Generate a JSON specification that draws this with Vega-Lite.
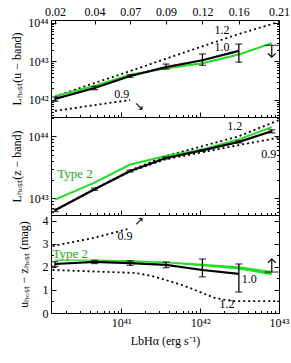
{
  "$schema": "https://vega.github.io/schema/vega-lite/v6.json",
  "padding": {"left": 10, "top": 4, "right": 2, "bottom": 2},
  "spacing": 0,
  "bounds": "flush",
  "config": {
    "view": {"stroke": "black", "strokeWidth": 1},
    "font": "Liberation Serif, Times New Roman, serif",
    "axis": {"domain": false, "grid": false, "labelFont": "Liberation Serif, Times New Roman, serif", "labelFontSize": 12, "labelColor": "black", "tickColor": "black", "tickWidth": 1, "titleFont": "Liberation Serif, Times New Roman, serif", "titleFontSize": 12, "titleFontWeight": "normal", "titleColor": "black", "labelOverlap": false, "labelFlush": false},
    "text": {"font": "Liberation Serif, Times New Roman, serif", "fontSize": 12}
  },
  "vconcat": [
    {
      "width": 228, "height": 97,
      "resolve": {"axis": {"x": "independent", "y": "independent"}},
      "layer": [
        {
          "data": {"values": [
            {"s": "1.2", "L": 1.45e40, "v": 1.23e42}, {"s": "1.2", "L": 4.6e40, "v": 2.75e42}, {"s": "1.2", "L": 1.3e41, "v": 5.6e42}, {"s": "1.2", "L": 3.7e41, "v": 1.17e43}, {"s": "1.2", "L": 1.07e42, "v": 2.45e43}, {"s": "1.2", "L": 3.1e42, "v": 5.1e43}, {"s": "1.2", "L": 1e43, "v": 1.05e44},
            {"s": "0.9", "L": 1.45e40, "v": 5.2e41}, {"s": "0.9", "L": 4.6e40, "v": 7.4e41}, {"s": "0.9", "L": 1.3e41, "v": 1.0e42}
          ]},
          "mark": {"type": "line", "color": "black", "strokeWidth": 1.8, "strokeDash": [2, 3], "clip": true},
          "encoding": {
            "x": {"field": "L", "type": "quantitative", "scale": {"type": "log", "domain": [1.29e40, 1e43], "nice": false},
              "axis": {"orient": "bottom", "values": [2e40,3e40,4e40,5e40,6e40,7e40,8e40,9e40,1e41,2e41,3e41,4e41,5e41,6e41,7e41,8e41,9e41,1e42,2e42,3e42,4e42,5e42,6e42,7e42,8e42,9e42,1e43], "labels": false, "title": null,
                "tickSize": {"condition": {"test": "datum.value==1e41||datum.value==1e42||datum.value==1e43", "value": -5}, "value": -2.5}}},
            "y": {"field": "v", "type": "quantitative", "scale": {"type": "log", "domain": [3.63e41, 1.175e44], "nice": false},
              "axis": {"orient": "left", "values": [4e41,5e41,6e41,7e41,8e41,9e41,1e42,2e42,3e42,4e42,5e42,6e42,7e42,8e42,9e42,1e43,2e43,3e43,4e43,5e43,6e43,7e43,8e43,9e43,1e44],
                "labelExpr": "datum.value==1e42?'10⁴²':datum.value==1e43?'10⁴³':datum.value==1e44?'10⁴⁴':''", "labelPadding": 8, "title": "Lₕₒₛₜ(u − band)", "titlePadding": 4,
                "tickSize": {"condition": {"test": "datum.value==1e42||datum.value==1e43||datum.value==1e44", "value": -5}, "value": -2.5}}},
            "detail": {"field": "s"}
          }
        },
        {
          "data": {"values": [
            {"L": 1.45e40, "v": 1.26e42}, {"L": 4.6e40, "v": 2.3e42}, {"L": 1.3e41, "v": 4.5e42}, {"L": 3.7e41, "v": 6.6e42}, {"L": 1.07e42, "v": 8.9e42}, {"L": 3.1e42, "v": 1.5e43}, {"L": 8.1e42, "v": 2.95e43}
          ]},
          "mark": {"type": "line", "color": "#22dd22", "strokeWidth": 2, "clip": true},
          "encoding": {
            "x": {"field": "L", "type": "quantitative",
              "axis": {"orient": "top", "values": [1.45e40, 4.6e40, 1.3e41, 3.7e41, 1.07e42, 3.1e42, 1e43], "tickSize": -4, "labelPadding": 6, "title": null,
                "labelExpr": "datum.value==1.45e40?'0.02':datum.value==4.6e40?'0.04':datum.value==1.3e41?'0.07':datum.value==3.7e41?'0.09':datum.value==1.07e42?'0.12':datum.value==3.1e42?'0.16':'0.21'"}},
            "y": {"field": "v", "type": "quantitative",
              "axis": {"orient": "right", "values": [4e41,5e41,6e41,7e41,8e41,9e41,1e42,2e42,3e42,4e42,5e42,6e42,7e42,8e42,9e42,1e43,2e43,3e43,4e43,5e43,6e43,7e43,8e43,9e43,1e44], "labels": false, "title": null,
                "tickSize": {"condition": {"test": "datum.value==1e42||datum.value==1e43||datum.value==1e44", "value": -5}, "value": -2.5}}}
          }
        },
        {
          "data": {"values": [
            {"L": 1.45e40, "v": 1.07e42, "lo": 9.3e41, "hi": 1.2e42}, {"L": 4.6e40, "v": 2.04e42, "lo": 1.85e42, "hi": 2.25e42}, {"L": 1.3e41, "v": 4.17e42, "lo": 3.85e42, "hi": 4.5e42}, {"L": 3.7e41, "v": 7.1e42, "lo": 6.3e42, "hi": 8.5e42}, {"L": 1.07e42, "v": 1.07e43, "lo": 7.9e42, "hi": 1.55e43}, {"L": 3.1e42, "v": 1.86e43, "lo": 9.5e42, "hi": 2.8e43}
          ]},
          "layer": [
            {"mark": {"type": "line", "color": "black", "strokeWidth": 2.2, "clip": true},
             "encoding": {"x": {"field": "L", "type": "quantitative", "axis": null}, "y": {"field": "v", "type": "quantitative", "axis": null}}},
            {"mark": {"type": "errorbar", "ticks": {"thickness": 1.3}, "size": 7, "thickness": 1.3, "color": "black"},
             "encoding": {"x": {"field": "L", "type": "quantitative", "axis": null}, "y": {"field": "lo", "type": "quantitative", "axis": null}, "y2": {"field": "hi"}}}
          ]
        },
        {
          "data": {"values": [{"L": 8.1e42, "v": 2.6e43, "v2": 1.28e43}]},
          "layer": [
            {"mark": {"type": "rule", "color": "black", "strokeWidth": 1.2},
             "encoding": {"x": {"field": "L", "type": "quantitative", "axis": null}, "y": {"field": "v", "type": "quantitative", "axis": null}, "y2": {"field": "v2"}}},
            {"mark": {"type": "tick", "orient": "horizontal", "color": "black", "size": 14, "thickness": 1.2},
             "encoding": {"x": {"field": "L", "type": "quantitative", "axis": null}, "y": {"field": "v", "type": "quantitative", "axis": null}}},
            {"mark": {"type": "point", "shape": "M -1 -1 L 0 0 L 1 -1", "filled": false, "stroke": "black", "strokeWidth": 1.2, "size": 60, "opacity": 1},
             "encoding": {"x": {"field": "L", "type": "quantitative", "axis": null}, "y": {"field": "v2", "type": "quantitative", "axis": null}}}
          ]
        },
        {
          "data": {"values": [
            {"L": 1.9e42, "v": 6.5e43, "t": "1.2"}, {"L": 1.9e42, "v": 2.4e43, "t": "1.0"}, {"L": 1.02e41, "v": 1.43e42, "t": "0.9"}, {"L": 1.7e41, "v": 7.0e41, "t": "↘"}
          ]},
          "mark": {"type": "text", "color": "black", "align": "center", "baseline": "middle"},
          "encoding": {"x": {"field": "L", "type": "quantitative", "axis": null}, "y": {"field": "v", "type": "quantitative", "axis": null}, "text": {"field": "t"}}
        }
      ]
    },
    {
      "width": 228, "height": 98,
      "resolve": {"axis": {"x": "independent", "y": "independent"}},
      "layer": [
        {
          "data": {"values": [
            {"s": "1.2", "L": 1.45e40, "v": 6.4e42}, {"s": "1.2", "L": 4.6e40, "v": 1.4e43}, {"s": "1.2", "L": 1.3e41, "v": 2.8e43}, {"s": "1.2", "L": 3.7e41, "v": 4.8e43}, {"s": "1.2", "L": 1.07e42, "v": 6.9e43}, {"s": "1.2", "L": 3.1e42, "v": 1.0e44}, {"s": "1.2", "L": 1e43, "v": 1.82e44},
            {"s": "0.9", "L": 1.45e40, "v": 6.4e42}, {"s": "0.9", "L": 4.6e40, "v": 1.4e43}, {"s": "0.9", "L": 1.3e41, "v": 2.7e43}, {"s": "0.9", "L": 3.7e41, "v": 4.27e43}, {"s": "0.9", "L": 1.07e42, "v": 5.5e43}, {"s": "0.9", "L": 3.1e42, "v": 7.2e43}, {"s": "0.9", "L": 1e43, "v": 9.5e43}
          ]},
          "mark": {"type": "line", "color": "black", "strokeWidth": 1.8, "strokeDash": [2, 3], "clip": true},
          "encoding": {
            "x": {"field": "L", "type": "quantitative", "scale": {"type": "log", "domain": [1.29e40, 1e43], "nice": false},
              "axis": {"orient": "bottom", "values": [2e40,3e40,4e40,5e40,6e40,7e40,8e40,9e40,1e41,2e41,3e41,4e41,5e41,6e41,7e41,8e41,9e41,1e42,2e42,3e42,4e42,5e42,6e42,7e42,8e42,9e42,1e43], "labels": false, "title": null,
                "tickSize": {"condition": {"test": "datum.value==1e41||datum.value==1e42||datum.value==1e43", "value": -5}, "value": -2.5}}},
            "y": {"field": "v", "type": "quantitative", "scale": {"type": "log", "domain": [5.37e42, 2.04e44], "nice": false},
              "axis": {"orient": "left", "values": [6e42,7e42,8e42,9e42,1e43,2e43,3e43,4e43,5e43,6e43,7e43,8e43,9e43,1e44,2e44],
                "labelExpr": "datum.value==1e43?'10⁴³':datum.value==1e44?'10⁴⁴':''", "labelPadding": 8, "title": "Lₕₒₛₜ(z − band)", "titlePadding": 4,
                "tickSize": {"condition": {"test": "datum.value==1e43||datum.value==1e44", "value": -5}, "value": -2.5}}},
            "detail": {"field": "s"}
          }
        },
        {
          "data": {"values": [
            {"L": 1.45e40, "v": 9.5e42}, {"L": 4.6e40, "v": 1.78e43}, {"L": 1.3e41, "v": 3.5e43}, {"L": 3.7e41, "v": 4.8e43}, {"L": 1.07e42, "v": 6.1e43}, {"L": 3.1e42, "v": 8.9e43}, {"L": 8.1e42, "v": 1.4e44}
          ]},
          "mark": {"type": "line", "color": "#22dd22", "strokeWidth": 2, "clip": true},
          "encoding": {
            "x": {"field": "L", "type": "quantitative", "axis": null},
            "y": {"field": "v", "type": "quantitative",
              "axis": {"orient": "right", "values": [6e42,7e42,8e42,9e42,1e43,2e43,3e43,4e43,5e43,6e43,7e43,8e43,9e43,1e44,2e44], "labels": false, "title": null,
                "tickSize": {"condition": {"test": "datum.value==1e43||datum.value==1e44", "value": -5}, "value": -2.5}}}
          }
        },
        {
          "data": {"values": [
            {"L": 1.45e40, "v": 6.4e42, "lo": 6.1e42, "hi": 6.7e42}, {"L": 4.6e40, "v": 1.4e43, "lo": 1.34e43, "hi": 1.46e43}, {"L": 1.3e41, "v": 2.75e43, "lo": 2.65e43, "hi": 2.85e43}, {"L": 3.7e41, "v": 4.45e43, "lo": 4.3e43, "hi": 4.6e43}, {"L": 1.07e42, "v": 5.9e43, "lo": 5.7e43, "hi": 6.1e43}, {"L": 3.1e42, "v": 8.1e43, "lo": 7.8e43, "hi": 8.4e43}, {"L": 8.1e42, "v": 1.2e44, "lo": 1.13e44, "hi": 1.27e44}
          ]},
          "layer": [
            {"mark": {"type": "line", "color": "black", "strokeWidth": 2.2, "clip": true},
             "encoding": {"x": {"field": "L", "type": "quantitative", "axis": null}, "y": {"field": "v", "type": "quantitative", "axis": null}}},
            {"mark": {"type": "errorbar", "ticks": {"thickness": 1.3}, "size": 7, "thickness": 1.3, "color": "black"},
             "encoding": {"x": {"field": "L", "type": "quantitative", "axis": null}, "y": {"field": "lo", "type": "quantitative", "axis": null}, "y2": {"field": "hi"}}}
          ]
        },
        {
          "data": {"values": [
            {"L": 2.75e42, "v": 1.45e44, "t": "1.2"}, {"L": 7.4e42, "v": 5.1e43, "t": "0.9"}
          ]},
          "mark": {"type": "text", "color": "black", "align": "center", "baseline": "middle"},
          "encoding": {"x": {"field": "L", "type": "quantitative", "axis": null}, "y": {"field": "v", "type": "quantitative", "axis": null}, "text": {"field": "t"}}
        },
        {
          "data": {"values": [{"L": 1.55e40, "v": 2.45e43, "t": "Type 2"}]},
          "mark": {"type": "text", "color": "#22aa22", "align": "left", "baseline": "middle", "fontSize": 13},
          "encoding": {"x": {"field": "L", "type": "quantitative", "axis": null}, "y": {"field": "v", "type": "quantitative", "axis": null}, "text": {"field": "t"}}
        }
      ]
    },
    {
      "width": 228, "height": 98,
      "resolve": {"axis": {"x": "independent", "y": "independent"}},
      "layer": [
        {
          "data": {"values": [
            {"s": "1.2", "L": 1.35e40, "v": 1.87}, {"s": "1.2", "L": 1.51e41, "v": 1.74}, {"s": "1.2", "L": 2.45e41, "v": 1.61}, {"s": "1.2", "L": 4.07e41, "v": 1.39}, {"s": "1.2", "L": 6.46e41, "v": 1.17}, {"s": "1.2", "L": 1.07e42, "v": 0.87}, {"s": "1.2", "L": 1.55e42, "v": 0.65}, {"s": "1.2", "L": 2.09e42, "v": 0.57}, {"s": "1.2", "L": 2.75e42, "v": 0.52}, {"s": "1.2", "L": 1e43, "v": 0.52},
            {"s": "0.9", "L": 1.35e40, "v": 2.91}, {"s": "0.9", "L": 4.6e40, "v": 3.27}, {"s": "0.9", "L": 1.2e41, "v": 3.65}
          ]},
          "mark": {"type": "line", "color": "black", "strokeWidth": 1.8, "strokeDash": [2, 3], "clip": true},
          "encoding": {
            "x": {"field": "L", "type": "quantitative", "scale": {"type": "log", "domain": [1.29e40, 1e43], "nice": false},
              "axis": {"orient": "bottom", "values": [2e40,3e40,4e40,5e40,6e40,7e40,8e40,9e40,1e41,2e41,3e41,4e41,5e41,6e41,7e41,8e41,9e41,1e42,2e42,3e42,4e42,5e42,6e42,7e42,8e42,9e42,1e43],
                "labelExpr": "datum.value==1e41?'10⁴¹':datum.value==1e42?'10⁴²':datum.value==1e43?'10⁴³':''", "labelPadding": 9,
                "title": "LbHα (erg s⁻¹)", "titlePadding": 5,
                "tickSize": {"condition": {"test": "datum.value==1e41||datum.value==1e42||datum.value==1e43", "value": -5}, "value": -2.5}}},
            "y": {"field": "v", "type": "quantitative", "scale": {"domain": [0, 4.26], "nice": false},
              "axis": {"orient": "left", "values": [0,0.5,1,1.5,2,2.5,3,3.5,4],
                "labelExpr": "datum.value%1==0?format(datum.value,'d'):''", "labelPadding": 8, "title": "uₕₒₛₜ − zₕₒₛₜ (mag)", "titlePadding": 12,
                "tickSize": {"condition": {"test": "datum.value%1==0", "value": -5}, "value": -2.5}}},
            "detail": {"field": "s"}
          }
        },
        {
          "data": {"values": [
            {"L": 1.45e40, "lo": 2.27, "hi": 2.33}, {"L": 4.6e40, "lo": 2.27, "hi": 2.33}, {"L": 1.3e41, "lo": 2.22, "hi": 2.29}, {"L": 3.7e41, "lo": 2.16, "hi": 2.24}, {"L": 1.07e42, "lo": 2.03, "hi": 2.14}, {"L": 3.1e42, "lo": 1.89, "hi": 2.03}, {"L": 8.1e42, "lo": 1.64, "hi": 1.83}
          ]},
          "mark": {"type": "area", "color": "#22dd22", "opacity": 1, "clip": true},
          "encoding": {
            "x": {"field": "L", "type": "quantitative", "axis": null},
            "y": {"field": "lo", "type": "quantitative",
              "axis": {"orient": "right", "values": [0,0.5,1,1.5,2,2.5,3,3.5,4], "labels": false, "title": null,
                "tickSize": {"condition": {"test": "datum.value%1==0", "value": -5}, "value": -2.5}}},
            "y2": {"field": "hi"}
          }
        },
        {
          "data": {"values": [
            {"L": 1.45e40, "v": 2.13, "lo": 2.03, "hi": 2.23}, {"L": 4.6e40, "v": 2.22, "lo": 2.15, "hi": 2.29}, {"L": 1.3e41, "v": 2.17, "lo": 2.07, "hi": 2.27}, {"L": 3.7e41, "v": 2.09, "lo": 1.97, "hi": 2.21}, {"L": 1.07e42, "v": 1.87, "lo": 1.57, "hi": 2.35}, {"L": 3.1e42, "v": 1.7, "lo": 0.91, "hi": 2.13}
          ]},
          "layer": [
            {"mark": {"type": "line", "color": "black", "strokeWidth": 2.2, "clip": true},
             "encoding": {"x": {"field": "L", "type": "quantitative", "axis": null}, "y": {"field": "v", "type": "quantitative", "axis": null}}},
            {"mark": {"type": "errorbar", "ticks": {"thickness": 1.3}, "size": 7, "thickness": 1.3, "color": "black"},
             "encoding": {"x": {"field": "L", "type": "quantitative", "axis": null}, "y": {"field": "lo", "type": "quantitative", "axis": null}, "y2": {"field": "hi"}}}
          ]
        },
        {
          "data": {"values": [{"L": 8.1e42, "v": 1.78, "v2": 2.35}]},
          "layer": [
            {"mark": {"type": "rule", "color": "black", "strokeWidth": 1.2},
             "encoding": {"x": {"field": "L", "type": "quantitative", "axis": null}, "y": {"field": "v", "type": "quantitative", "axis": null}, "y2": {"field": "v2"}}},
            {"mark": {"type": "tick", "orient": "horizontal", "color": "black", "size": 14, "thickness": 1.2},
             "encoding": {"x": {"field": "L", "type": "quantitative", "axis": null}, "y": {"field": "v", "type": "quantitative", "axis": null}}},
            {"mark": {"type": "point", "shape": "M -1 1 L 0 0 L 1 1", "filled": false, "stroke": "black", "strokeWidth": 1.2, "size": 60, "opacity": 1},
             "encoding": {"x": {"field": "L", "type": "quantitative", "axis": null}, "y": {"field": "v2", "type": "quantitative", "axis": null}}}
          ]
        },
        {
          "data": {"values": [
            {"L": 1.12e41, "v": 3.35, "t": "0.9"}, {"L": 1.7e41, "v": 4.0, "t": "↗"}, {"L": 4.2e42, "v": 1.48, "t": "1.0"}, {"L": 2.2e42, "v": 0.39, "t": "1.2"}
          ]},
          "mark": {"type": "text", "color": "black", "align": "center", "baseline": "middle"},
          "encoding": {"x": {"field": "L", "type": "quantitative", "axis": null}, "y": {"field": "v", "type": "quantitative", "axis": null}, "text": {"field": "t"}}
        },
        {
          "data": {"values": [{"L": 1.35e40, "v": 2.57, "t": "Type 2"}]},
          "mark": {"type": "text", "color": "#22aa22", "align": "left", "baseline": "middle", "fontSize": 13},
          "encoding": {"x": {"field": "L", "type": "quantitative", "axis": null}, "y": {"field": "v", "type": "quantitative", "axis": null}, "text": {"field": "t"}}
        }
      ]
    }
  ]
}
